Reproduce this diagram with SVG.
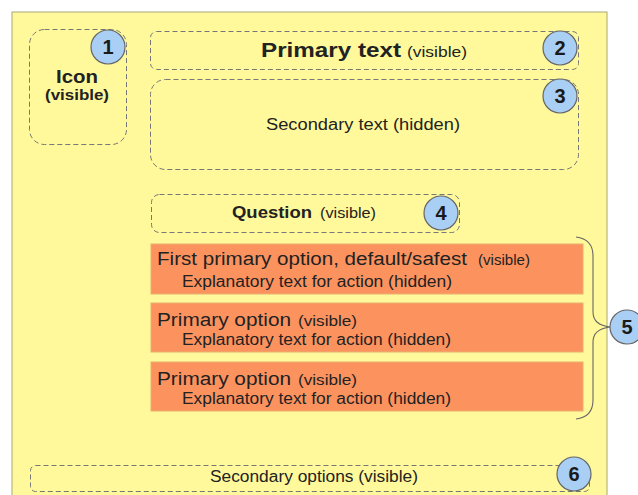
<svg xmlns="http://www.w3.org/2000/svg" width="638" height="495" viewBox="0 0 638 495">
<style>
.dash{fill:none;stroke:#777;stroke-width:1;stroke-dasharray:5,3}
.badge{fill:#a9cff5;stroke:#666;stroke-width:1.2}
.num{font-family:"Liberation Sans",Arial,sans-serif;font-weight:bold;font-size:20px;fill:#1a1a1a;text-anchor:middle}
.t{font-family:"Liberation Sans",Arial,sans-serif;fill:#222}
.opt{fill:#fc935f;stroke:#e8b070;stroke-width:1}
</style>
<rect x="0" y="0" width="638" height="495" fill="#ffffff"/>
<rect id="panel" x="12" y="12" width="595" height="490" fill="#fff99b" stroke="#a8a878" stroke-width="1"/>
<g id="icon">
<rect class="dash" x="29.5" y="29.5" width="97" height="115" rx="15"/>
<text class="t" x="56" y="83" font-size="18" font-weight="bold" textLength="42" lengthAdjust="spacingAndGlyphs">Icon</text>
<text class="t" x="45" y="100" font-size="15" font-weight="bold" textLength="64" lengthAdjust="spacingAndGlyphs">(visible)</text>
<circle class="badge" cx="108" cy="47" r="17"/><text class="num" x="108" y="54">1</text>
</g>
<g id="primary">
<rect class="dash" x="150.5" y="31.5" width="428" height="38" rx="6"/>
<text class="t" x="261" y="57" font-size="20" font-weight="bold" textLength="140" lengthAdjust="spacingAndGlyphs">Primary text</text>
<text class="t" x="407" y="57" font-size="15" textLength="60" lengthAdjust="spacingAndGlyphs">(visible)</text>
<circle class="badge" cx="560" cy="48" r="17"/><text class="num" x="560" y="55">2</text>
</g>
<g id="secondary">
<rect class="dash" x="150.5" y="79.5" width="428" height="90" rx="15"/>
<text class="t" x="266" y="130" font-size="16" textLength="194" lengthAdjust="spacingAndGlyphs">Secondary text (hidden)</text>
<circle class="badge" cx="560" cy="96" r="17"/><text class="num" x="560" y="103">3</text>
</g>
<g id="question">
<rect class="dash" x="151.5" y="194.5" width="308" height="38" rx="8"/>
<text class="t" x="232" y="218" font-size="16" font-weight="bold" textLength="80" lengthAdjust="spacingAndGlyphs">Question</text>
<text class="t" x="320" y="218" font-size="15" textLength="56" lengthAdjust="spacingAndGlyphs">(visible)</text>
<circle class="badge" cx="441" cy="213" r="17"/><text class="num" x="441" y="220">4</text>
</g>
<g id="option1">
<rect class="opt" x="151" y="244" width="432" height="50"/>
<text class="t" x="157" y="265" font-size="18" textLength="310" lengthAdjust="spacingAndGlyphs">First primary option, default/safest</text>
<text class="t" x="478" y="265" font-size="15" textLength="52" lengthAdjust="spacingAndGlyphs">(visible)</text>
<text class="t" x="182" y="287" font-size="16" textLength="270" lengthAdjust="spacingAndGlyphs">Explanatory text for action (hidden)</text>
</g>
<g id="option2">
<rect class="opt" x="151" y="303" width="432" height="49"/>
<text class="t" x="157" y="326" font-size="18" textLength="134" lengthAdjust="spacingAndGlyphs">Primary option</text>
<text class="t" x="298" y="326" font-size="15" textLength="59" lengthAdjust="spacingAndGlyphs">(visible)</text>
<text class="t" x="182" y="345" font-size="16" textLength="269" lengthAdjust="spacingAndGlyphs">Explanatory text for action (hidden)</text>
</g>
<g id="option3">
<rect class="opt" x="151" y="362" width="432" height="49"/>
<text class="t" x="157" y="385" font-size="18" textLength="134" lengthAdjust="spacingAndGlyphs">Primary option</text>
<text class="t" x="298" y="385" font-size="15" textLength="59" lengthAdjust="spacingAndGlyphs">(visible)</text>
<text class="t" x="182" y="404" font-size="16" textLength="269" lengthAdjust="spacingAndGlyphs">Explanatory text for action (hidden)</text>
</g>
<g id="connectors">
<path d="M576,237 Q593,239 593,256 L593,312 Q593,325 610,327 Q593,329 593,342 L593,400 Q593,417 576,419" fill="none" stroke="#666" stroke-width="1.1"/>
</g>
<g id="badge5">
<circle class="badge" cx="627" cy="327" r="17"/><text class="num" x="627" y="334">5</text>
</g>
<g id="secondary-options">
<rect class="dash" x="30.5" y="465.5" width="559" height="26" rx="5"/>
<text class="t" x="210" y="482" font-size="16" textLength="208" lengthAdjust="spacingAndGlyphs">Secondary options (visible)</text>
<circle class="badge" cx="574" cy="474" r="17"/><text class="num" x="574" y="481">6</text>
</g>
</svg>
